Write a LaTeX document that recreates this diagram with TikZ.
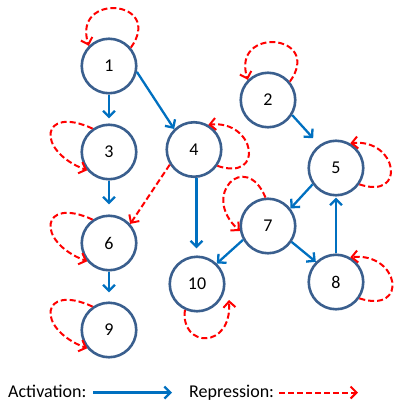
\documentclass[tikz,border=0pt]{standalone}
\usepackage{fontspec}
\setmainfont{Carlito}
\usetikzlibrary{arrows.meta,calc}
\definecolor{ringblue}{HTML}{3A5F8E}
\definecolor{actblue}{HTML}{0070C0}
\definecolor{repred}{HTML}{FF0000}
\tikzset{
  gene/.style={circle,draw=ringblue,line width=2.6pt,minimum size=54.5pt,inner sep=0pt,
    font=\fontsize{18}{22}\selectfont},
  act/.style={draw=actblue,line width=2.3pt,
    -{Straight Barb[length=6pt,width=12pt,line width=2.3pt]}},
  rep/.style={draw=repred,line width=2pt,dash pattern=on 6pt off 3pt,
    -{Straight Barb[length=6pt,width=12pt,line width=2pt]}},
  legtext/.style={anchor=base west,inner sep=0pt,font=\fontsize{18}{22}\selectfont},
}
\begin{document}
\begin{tikzpicture}[x=1pt,y=-1pt]
\useasboundingbox (0,0) rectangle (398,405);

% genes
\node[gene] (n1)  at (109,66)    {1};
\node[gene] (n3)  at (109,152)   {3};
\node[gene] (n6)  at (109,243)   {6};
\node[gene] (n9)  at (109,330)   {9};
\node[gene] (n4)  at (194,149.5) {4};
\node[gene] (n10) at (197,284)   {10};
\node[gene] (n2)  at (268,100)   {2};
\node[gene] (n5)  at (336,168)   {5};
\node[gene] (n7)  at (268,226)   {7};
\node[gene] (n8)  at (336,282)   {8};

% activation
\draw[act,shorten >=5pt]  (n1.south) -- (n3.north);
\draw[act]                (n1.-12) -- (n4.134);
\draw[act,shorten >=10pt] (n3.south) -- (n6.north);
\draw[act,shorten >=9pt]  (n6.south) -- (n9.north);
\draw[act,shorten >=7pt]  (n4.-85) -- (n4.-85 |- n10.north);
\draw[act,shorten >=9pt]  (n2.-32) -- (n5.126);
\draw[act]                (n5.215) -- (n7.38);
\draw[act]                (n7.209) -- (n10.46);
\draw[act]                (n7.-34) -- (n8.135);
\draw[act,shorten >=1pt]  (n8.north) -- (n5.south);

% repression
\draw[rep] (n4.212) -- (n6.42);

% self repression loops
\draw[rep] (n1.40) .. controls +(34,-48) and +(-17,-54) .. (n1.135);
\draw[rep] (n2.40) .. controls +(34,-48) and +(-17,-54) .. (n2.135);
\draw[rep] (n3.125) .. controls +(-52,-24) and +(-52,-20) .. (n3.220);
\draw[rep] (n6.125) .. controls +(-52,-24) and +(-52,-20) .. (n6.220);
\draw[rep] (n9.125) .. controls +(-52,-24) and +(-52,-20) .. (n9.220);
\draw[rep] (n4.-35) .. controls +(48,16) and +(47,-5) .. (n4.60);
\draw[rep] (n5.-35) .. controls +(48,16) and +(47,-5) .. (n5.60);
\draw[rep] (n8.-35) .. controls +(50,16) and +(49,-5) .. (n8.60);
\draw[rep] (n7.95) .. controls +(-20,-48) and +(-40,-36) .. (n7.190);
\coordinate (t10) at ($(n10)+(32,16)$);
\draw[rep] (n10.245) .. controls +(-5,38) and +(3,50) .. (t10);

% legend
\node[legtext] (lact) at (8,397)   {Activation:};
\node[legtext] (lrep) at (189,397) {Repression:};
\coordinate (a0) at (93,392.5);
\coordinate (a1) at (172,392.5);
\coordinate (r0) at (279,392.5);
\coordinate (r1) at (358,392.5);
\draw[act] (a0) -- (a1);
\draw[rep] (r0) -- (r1);
\end{tikzpicture}
\end{document}
